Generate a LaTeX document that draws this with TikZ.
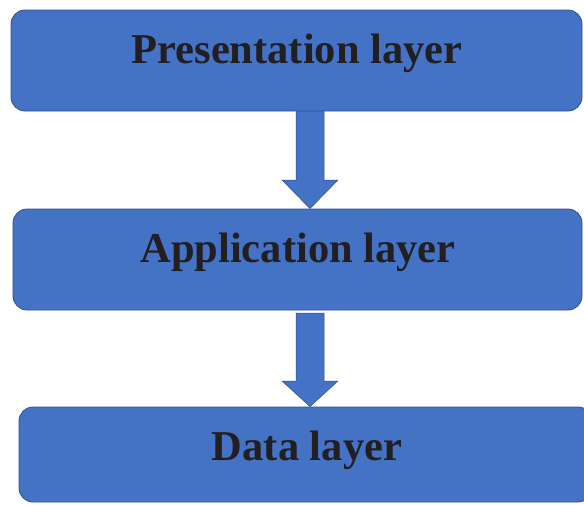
\documentclass[tikz,border=0pt]{standalone}
\usepackage{fontspec}
\setmainfont{Liberation Serif}
\definecolor{boxfill}{HTML}{4472C4}
\definecolor{boxline}{HTML}{2F528F}
\definecolor{txt}{HTML}{231F20}
\begin{document}
\begin{tikzpicture}[x=1pt,y=-1pt,
  layerbox/.style={draw=boxline, line width=0.8pt, fill=boxfill, rounded corners=14pt},
  lbl/.style={text=txt, font=\fontsize{42.5}{50}\selectfont\bfseries, inner sep=0pt, anchor=base},
  blockarrow/.style={fill=boxfill, draw=boxline, line width=0.5pt, line join=miter}]
\clip (0,0) rectangle (584,504);
\fill[white] (0,0) rectangle (584,504);
\node[layerbox, minimum width=571pt, minimum height=101pt, inner sep=0pt] (p) at (296.5,60.5) {};
\node[layerbox, minimum width=569pt, minimum height=101pt, inner sep=0pt] (a) at (297.5,259.5) {};
\node[layerbox, minimum width=573pt, minimum height=95pt, inner sep=0pt] (d) at (305.5,454.5) {};
\node[lbl] (pt) at (297,63) {Presentation layer};
\node[lbl] (at) at (298,262) {Application layer};
\node[lbl] (dt) at (307,460) {Data layer};
\draw[blockarrow] (296,0 |- p.south) -- (324,0 |- p.south) -- (324,180) -- (338,180)
  -- (310,0 |- a.north) -- (282,180) -- (296,180) -- cycle;
\draw[blockarrow] (296,313) -- (324,313) -- (324,381) -- (338,381)
  -- (310,0 |- d.north) -- (282,381) -- (296,381) -- cycle;
\end{tikzpicture}
\end{document}
